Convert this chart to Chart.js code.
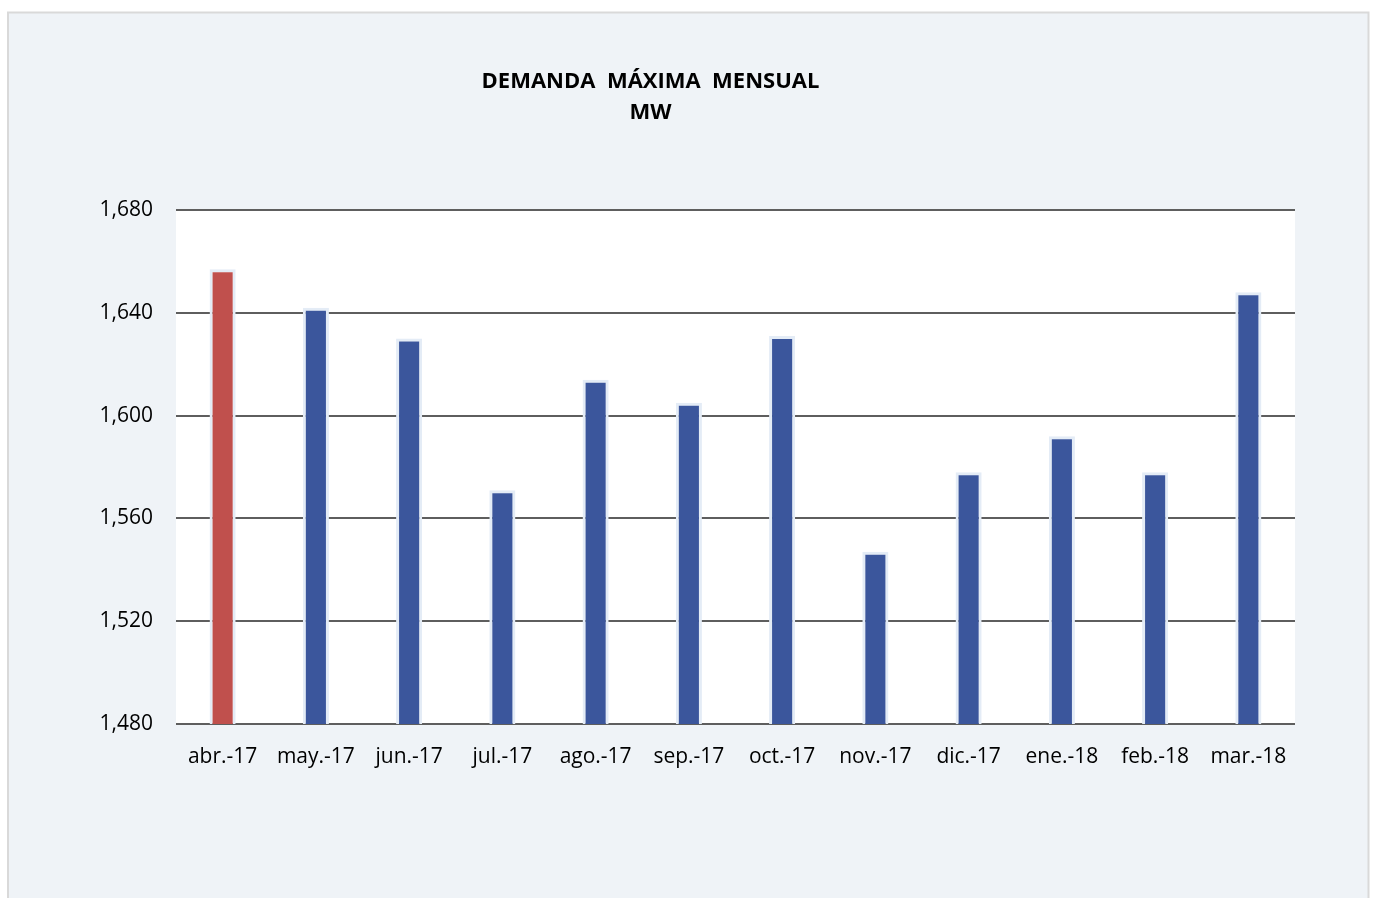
<!DOCTYPE html>
<html>
<head>
<meta charset="utf-8">
<script src="https://cdn.jsdelivr.net/npm/chart.js@4.4.1/dist/chart.umd.min.js"></script>
<style>
  html, body { margin: 0; padding: 0; background: #ffffff; }
  #wrap { width: 1375px; height: 898px; position: relative; }
  canvas { display: block; }
</style>
</head>
<body>
<div id="wrap"><canvas id="c" width="1375" height="898"></canvas></div>
<script>
const categories = ['abr.-17', 'may.-17', 'jun.-17', 'jul.-17', 'ago.-17', 'sep.-17', 'oct.-17', 'nov.-17', 'dic.-17', 'ene.-18', 'feb.-18', 'mar.-18'];
const demandaMW = [1657, 1642, 1630, 1571, 1614, 1605, 1631, 1547, 1578, 1592, 1578, 1648];
const titleLines = ['DEMANDA  MÁXIMA  MENSUAL', 'MW'];
const yMin = 1480, yMax = 1680, yStep = 40;

const barColors = categories.map((c, i) => i === 0 ? '#c0504d' : '#3b569c');

const framePlugin = {
  id: 'frame',
  beforeDraw(chart) {
    const ctx = chart.ctx;
    const a = chart.chartArea;
    ctx.save();
    ctx.fillStyle = '#ffffff';
    ctx.fillRect(0, 0, chart.width, chart.height);
    ctx.fillStyle = '#eff3f7';
    ctx.fillRect(8, 12, 1361, 900);
    ctx.strokeStyle = '#d9d9d9';
    ctx.lineWidth = 2;
    ctx.strokeRect(8, 12.5, 1360.5, 900);
    ctx.fillStyle = '#ffffff';
    ctx.fillRect(a.left, a.top, a.right - a.left, a.bottom - a.top);
    ctx.restore();
  }
};

new Chart(document.getElementById('c'), {
  type: 'bar',
  data: {
    labels: categories,
    datasets: [{
      data: demandaMW,
      backgroundColor: barColors,
      borderColor: '#e4ecf6',
      borderWidth: 3,
      borderSkipped: 'bottom',
      barPercentage: 0.56,
      categoryPercentage: 0.5
    }]
  },
  options: {
    responsive: false,
    animation: false,
    devicePixelRatio: 1,
    layout: { padding: { left: 6, right: 80, top: 0, bottom: 0 } },
    plugins: {
      legend: { display: false },
      tooltip: { enabled: false },
      title: {
        display: true,
        text: titleLines,
        color: '#000000',
        font: { family: 'Open Sans', size: 22, weight: 'bold', lineHeight: 1.41 },
        padding: { top: 66, bottom: 82 }
      }
    },
    scales: {
      x: {
        grid: { display: false, drawTicks: false },
        border: { display: false },
        ticks: { color: '#000000', font: { family: 'Open Sans', size: 21 }, padding: 20, maxRotation: 0 },
        afterFit(scale) { scale.height = 898 - 724; }
      },
      y: {
        min: yMin,
        max: yMax,
        grid: { color: '#5e5e5e', lineWidth: 2, drawTicks: false },
        border: { display: false },
        ticks: {
          stepSize: yStep,
          color: '#000000',
          font: { family: 'Open Sans', size: 21 },
          padding: 23,
          callback: v => v.toLocaleString('en-US')
        },
        afterFit(scale) { scale.width = 176 - 6; }
      }
    }
  },
  plugins: [framePlugin]
});
</script>
</body>
</html>
